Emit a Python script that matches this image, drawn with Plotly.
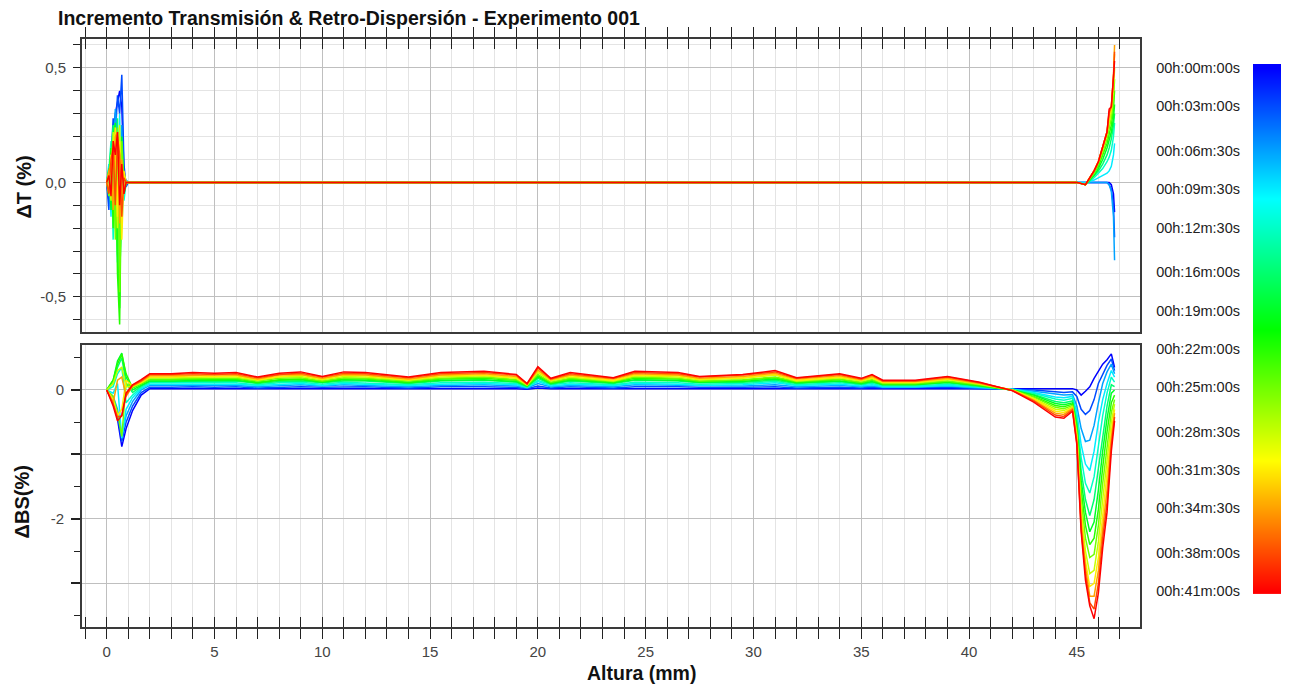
import plotly.graph_objects as go
from plotly.colors import sample_colorscale

FONT = "Arial, 'Liberation Sans', sans-serif"

# ---------------- data ----------------
TIME_LABELS = ["00h:00m:00s", "00h:03m:00s", "00h:06m:30s", "00h:09m:30s", "00h:12m:30s",
               "00h:16m:00s", "00h:19m:00s", "00h:22m:00s", "00h:25m:00s", "00h:28m:30s",
               "00h:31m:30s", "00h:34m:30s", "00h:38m:00s", "00h:41m:00s"]
MINUTES = [0, 3, 6.5, 9.5, 12.5, 16, 19, 22, 25, 28.5, 31.5, 34.5, 38, 41]

# Transmission increment (top panel)
X_T = [0.0, 0.1, 0.2, 0.3, 0.4, 0.5, 0.6, 0.7, 0.8, 0.9, 1.0, 1.3, 2.0,
       44.0, 45.0, 45.4, 45.8, 46.0, 46.2, 46.4, 46.5, 46.6, 46.7, 46.75]
DT = [
    [0.00, -0.08, 0.06, 0.22, 0.30, 0.35, 0.40, 0.33, 0.05, 0.00, 0.00, 0.00, 0.00,
     0.00, 0.00, 0.00, 0.00, 0.00, 0.00, 0.00, 0.00, -0.01, -0.05, -0.13],
    [0.00, -0.12, 0.10, 0.28, 0.20, 0.38, 0.30, 0.47, 0.08, -0.02, 0.00, 0.00, 0.00,
     0.00, 0.00, 0.00, 0.00, 0.00, 0.00, 0.00, -0.01, -0.03, -0.10, -0.24],
    [0.00, 0.05, -0.10, 0.15, 0.32, 0.22, -0.30, 0.25, -0.05, 0.01, 0.00, 0.00, 0.00,
     0.00, 0.00, 0.00, 0.00, 0.00, 0.00, 0.00, -0.01, -0.04, -0.15, -0.34],
    [0.00, 0.08, -0.15, 0.20, 0.10, -0.35, 0.30, -0.20, 0.03, 0.00, 0.00, 0.00, 0.00,
     0.00, 0.00, 0.00, 0.01, 0.02, 0.03, 0.04, 0.05, 0.07, 0.12, 0.17],
    [0.00, 0.05, 0.18, -0.25, 0.22, 0.05, -0.45, 0.15, -0.08, 0.00, 0.00, 0.00, 0.00,
     0.00, 0.00, -0.01, 0.02, 0.04, 0.06, 0.09, 0.11, 0.14, 0.20, 0.26],
    [0.00, -0.05, 0.12, 0.25, -0.20, 0.28, -0.50, 0.10, 0.02, 0.00, 0.00, 0.00, 0.00,
     0.00, 0.00, -0.01, 0.03, 0.05, 0.08, 0.12, 0.15, 0.19, 0.25, 0.30],
    [0.00, 0.06, -0.12, 0.20, 0.26, -0.30, -0.55, 0.20, -0.05, 0.00, 0.00, 0.00, 0.00,
     0.00, 0.00, -0.01, 0.03, 0.06, 0.10, 0.15, 0.18, 0.22, 0.28, 0.34],
    [0.00, 0.02, 0.15, -0.20, 0.22, -0.40, -0.62, 0.12, 0.03, 0.00, 0.00, 0.00, 0.00,
     0.00, 0.00, -0.01, 0.04, 0.07, 0.12, 0.17, 0.21, 0.25, 0.32, 0.40],
    [0.00, -0.06, 0.10, 0.18, -0.25, 0.24, -0.48, 0.18, -0.04, 0.00, 0.00, 0.00, 0.00,
     0.00, 0.00, -0.01, 0.04, 0.08, 0.13, 0.19, 0.24, 0.28, 0.36, 0.45],
    [0.00, 0.04, -0.08, 0.22, 0.15, -0.20, 0.25, -0.10, 0.02, 0.00, 0.00, 0.00, 0.00,
     0.00, 0.00, -0.01, 0.05, 0.09, 0.14, 0.21, 0.27, 0.31, 0.40, 0.50],
    [0.00, -0.04, 0.12, 0.10, 0.24, -0.15, 0.18, -0.25, 0.05, 0.00, 0.00, 0.00, 0.00,
     0.00, 0.00, -0.01, 0.05, 0.09, 0.15, 0.22, 0.29, 0.32, 0.45, 0.56],
    [0.00, 0.05, 0.08, -0.12, 0.20, 0.22, -0.18, 0.10, -0.03, 0.00, 0.00, 0.00, 0.00,
     0.00, 0.00, -0.01, 0.05, 0.09, 0.15, 0.22, 0.30, 0.33, 0.47, 0.60],
    [0.00, -0.05, 0.10, 0.15, -0.10, 0.20, 0.12, -0.15, 0.02, 0.00, 0.00, 0.00, 0.00,
     0.00, 0.00, -0.01, 0.05, 0.09, 0.15, 0.22, 0.31, 0.33, 0.46, 0.57],
    [0.00, 0.03, -0.06, 0.18, 0.12, 0.22, -0.10, 0.08, -0.05, 0.00, 0.00, 0.00, 0.00,
     0.00, 0.00, -0.01, 0.05, 0.09, 0.15, 0.22, 0.32, 0.33, 0.46, 0.53],
]

# Backscattering increment (bottom panel)
X_BS_LEFT = [0.0, 0.3, 0.5, 0.7, 0.9, 1.2, 1.6]
X_BS_PLATEAU = [2.0, 3.0, 4.0, 5.0, 6.0, 7.0, 8.0, 9.0, 10.0, 11.0,
                12.0, 14.0, 15.5, 17.5, 19.0, 19.5, 20.0, 20.6, 21.5, 23.5,
                24.5, 26.5, 27.5, 29.5, 31.0, 32.0, 34.0, 35.0, 35.5, 36.0,
                37.5, 39.0, 40.5]
X_BS_TAIL = [42.0, 43.0, 44.0, 44.4, 44.8]
X_BS_SPIKE = [45.0, 45.2, 45.4, 45.6, 45.8, 46.0, 46.2, 46.4, 46.6, 46.75]

BS_LEFT = [
    [0.00, -0.20, -0.45, -0.88, -0.60, -0.32, -0.08],
    [0.00, -0.15, -0.40, -0.80, -0.50, -0.25, -0.04],
    [0.00, -0.10, -0.30, -0.70, -0.40, -0.18, 0.00],
    [0.00, -0.05, 0.10, -0.75, -0.30, -0.12, 0.02],
    [0.00, 0.05, 0.25, 0.35, -0.20, -0.08, 0.04],
    [0.00, 0.10, 0.35, 0.50, 0.10, -0.04, 0.06],
    [0.00, 0.15, 0.45, 0.57, 0.20, 0.00, 0.07],
    [0.00, 0.15, 0.40, 0.55, 0.25, 0.03, 0.09],
    [0.00, -0.10, -0.35, -0.72, 0.10, 0.04, 0.10],
    [0.00, 0.10, 0.30, 0.35, 0.05, 0.05, 0.11],
    [0.00, -0.15, -0.40, -0.30, 0.15, 0.06, 0.12],
    [0.00, -0.20, 0.15, 0.20, -0.10, 0.06, 0.13],
    [0.00, -0.22, -0.42, -0.40, -0.08, 0.07, 0.14],
    [0.00, -0.25, -0.48, -0.40, -0.05, 0.08, 0.16],
]
BS_PLATEAU = [
    [0.02, 0.02, 0.02, 0.02, 0.02, 0.02, 0.02, 0.02, 0.02, 0.03, 0.02, 0.02, 0.02, 0.02, 0.02, 0.01, 0.03,
     0.02, 0.02, 0.02, 0.02, 0.02, 0.02, 0.02, 0.02, 0.02, 0.02, 0.02, 0.02, 0.01, 0.02, 0.02, 0.01],
    [0.04, 0.04, 0.05, 0.04, 0.05, 0.03, 0.04, 0.05, 0.04, 0.05, 0.05, 0.03, 0.05, 0.05, 0.04, 0.02, 0.06,
     0.03, 0.05, 0.03, 0.05, 0.05, 0.04, 0.04, 0.05, 0.03, 0.04, 0.03, 0.04, 0.03, 0.03, 0.04, 0.02],
    [0.07, 0.07, 0.07, 0.07, 0.07, 0.05, 0.07, 0.08, 0.06, 0.08, 0.07, 0.05, 0.07, 0.08, 0.06, 0.03, 0.10,
     0.05, 0.07, 0.05, 0.08, 0.07, 0.06, 0.06, 0.08, 0.05, 0.07, 0.05, 0.06, 0.04, 0.04, 0.06, 0.03],
    [0.09, 0.09, 0.09, 0.09, 0.09, 0.07, 0.09, 0.10, 0.07, 0.10, 0.09, 0.07, 0.09, 0.10, 0.08, 0.04, 0.13,
     0.06, 0.09, 0.07, 0.10, 0.09, 0.07, 0.08, 0.11, 0.07, 0.09, 0.06, 0.08, 0.05, 0.05, 0.07, 0.04],
    [0.11, 0.11, 0.11, 0.11, 0.11, 0.08, 0.11, 0.12, 0.09, 0.12, 0.11, 0.08, 0.11, 0.12, 0.10, 0.04, 0.15,
     0.08, 0.11, 0.08, 0.12, 0.11, 0.09, 0.10, 0.13, 0.08, 0.11, 0.08, 0.10, 0.06, 0.06, 0.09, 0.05],
    [0.13, 0.13, 0.14, 0.13, 0.14, 0.10, 0.13, 0.14, 0.11, 0.14, 0.14, 0.10, 0.14, 0.15, 0.12, 0.05, 0.18,
     0.09, 0.14, 0.10, 0.15, 0.14, 0.11, 0.12, 0.15, 0.10, 0.13, 0.09, 0.12, 0.08, 0.08, 0.11, 0.06],
    [0.14, 0.14, 0.15, 0.15, 0.15, 0.11, 0.15, 0.16, 0.12, 0.16, 0.15, 0.11, 0.15, 0.16, 0.13, 0.06, 0.20,
     0.10, 0.15, 0.11, 0.16, 0.15, 0.12, 0.13, 0.17, 0.11, 0.14, 0.10, 0.13, 0.08, 0.08, 0.12, 0.07],
    [0.16, 0.16, 0.17, 0.16, 0.17, 0.12, 0.16, 0.17, 0.13, 0.17, 0.17, 0.12, 0.17, 0.18, 0.15, 0.06, 0.22,
     0.11, 0.17, 0.12, 0.18, 0.17, 0.13, 0.15, 0.19, 0.12, 0.16, 0.11, 0.15, 0.09, 0.09, 0.13, 0.07],
    [0.17, 0.17, 0.18, 0.18, 0.18, 0.14, 0.18, 0.19, 0.14, 0.19, 0.18, 0.14, 0.18, 0.20, 0.16, 0.07, 0.24,
     0.12, 0.18, 0.13, 0.20, 0.18, 0.14, 0.16, 0.20, 0.13, 0.17, 0.12, 0.16, 0.10, 0.10, 0.14, 0.08],
    [0.19, 0.19, 0.20, 0.20, 0.20, 0.15, 0.20, 0.21, 0.16, 0.21, 0.20, 0.15, 0.20, 0.22, 0.18, 0.08, 0.27,
     0.14, 0.20, 0.14, 0.22, 0.20, 0.16, 0.18, 0.23, 0.14, 0.19, 0.14, 0.18, 0.11, 0.11, 0.16, 0.09],
    [0.20, 0.20, 0.22, 0.21, 0.22, 0.16, 0.21, 0.23, 0.17, 0.23, 0.22, 0.16, 0.22, 0.23, 0.19, 0.08, 0.29,
     0.15, 0.22, 0.15, 0.23, 0.22, 0.17, 0.19, 0.24, 0.15, 0.20, 0.15, 0.19, 0.12, 0.12, 0.17, 0.10],
    [0.22, 0.22, 0.23, 0.23, 0.23, 0.17, 0.23, 0.24, 0.18, 0.24, 0.23, 0.17, 0.23, 0.25, 0.21, 0.09, 0.31,
     0.16, 0.23, 0.17, 0.25, 0.23, 0.18, 0.21, 0.26, 0.17, 0.22, 0.16, 0.21, 0.13, 0.13, 0.18, 0.10],
    [0.24, 0.24, 0.25, 0.24, 0.25, 0.19, 0.24, 0.26, 0.20, 0.26, 0.25, 0.19, 0.25, 0.27, 0.23, 0.09, 0.34,
     0.17, 0.25, 0.18, 0.27, 0.25, 0.20, 0.23, 0.28, 0.18, 0.24, 0.17, 0.23, 0.14, 0.14, 0.20, 0.11],
    [0.25, 0.25, 0.27, 0.26, 0.27, 0.20, 0.26, 0.28, 0.21, 0.28, 0.27, 0.20, 0.27, 0.29, 0.24, 0.10, 0.36,
     0.18, 0.27, 0.19, 0.29, 0.27, 0.21, 0.24, 0.30, 0.19, 0.25, 0.18, 0.24, 0.15, 0.15, 0.21, 0.12],
]
BS_TAIL = [
    [0.02, 0.02, 0.02, 0.02, 0.02],
    [0.01, 0.00, -0.03, -0.04, -0.03],
    [0.01, -0.02, -0.07, -0.08, -0.07],
    [0.01, -0.04, -0.11, -0.12, -0.10],
    [0.01, -0.05, -0.14, -0.16, -0.13],
    [0.00, -0.07, -0.18, -0.20, -0.17],
    [0.00, -0.08, -0.21, -0.23, -0.20],
    [0.00, -0.10, -0.24, -0.26, -0.22],
    [0.00, -0.11, -0.27, -0.29, -0.24],
    [0.00, -0.13, -0.30, -0.32, -0.26],
    [0.00, -0.14, -0.33, -0.35, -0.28],
    [0.00, -0.16, -0.36, -0.38, -0.29],
    [-0.01, -0.17, -0.39, -0.41, -0.31],
    [-0.01, -0.19, -0.42, -0.44, -0.33],
]
BS_SPIKE = [
    [0.00, -0.08, -0.02, 0.05, 0.18, 0.30, 0.40, 0.47, 0.56, 0.35],
    [-0.10, -0.30, -0.38, -0.32, -0.15, 0.10, 0.25, 0.38, 0.48, 0.30],
    [-0.25, -0.60, -0.80, -0.78, -0.55, -0.20, 0.10, 0.28, 0.40, 0.25],
    [-0.35, -0.85, -1.15, -1.25, -0.95, -0.50, -0.15, 0.10, 0.30, 0.20],
    [-0.45, -1.05, -1.45, -1.60, -1.35, -0.85, -0.40, -0.05, 0.20, 0.12],
    [-0.50, -1.25, -1.70, -1.95, -1.70, -1.20, -0.70, -0.25, 0.08, 0.05],
    [-0.55, -1.40, -1.90, -2.20, -2.05, -1.55, -0.95, -0.45, -0.05, 0.00],
    [-0.60, -1.55, -2.10, -2.40, -2.30, -1.85, -1.20, -0.65, -0.20, -0.08],
    [-0.65, -1.70, -2.30, -2.60, -2.55, -2.10, -1.45, -0.85, -0.35, -0.15],
    [-0.70, -1.85, -2.50, -2.85, -2.80, -2.35, -1.70, -1.10, -0.50, -0.22],
    [-0.74, -1.95, -2.65, -3.05, -3.00, -2.60, -1.95, -1.35, -0.65, -0.30],
    [-0.78, -2.05, -2.75, -3.20, -3.20, -2.80, -2.15, -1.55, -0.75, -0.36],
    [-0.82, -2.15, -2.85, -3.30, -3.40, -3.00, -2.30, -1.75, -0.85, -0.42],
    [-0.85, -2.20, -2.95, -3.35, -3.55, -3.15, -2.45, -1.90, -0.95, -0.48],
]

X_TICKS = [0, 5, 10, 15, 20, 25, 30, 35, 40, 45]
X_MINOR = [-1, 1, 2, 3, 4, 6, 7, 8, 9, 11, 12, 13, 14, 16, 17, 18, 19, 21, 22, 23, 24,
           26, 27, 28, 29, 31, 32, 33, 34, 36, 37, 38, 39, 41, 42, 43, 44, 46, 47]
X_ALL = [-1] + list(range(0, 48))
DT_TICKS = [-0.5, 0.0, 0.5]
DT_TICK_TEXT = ["-0,5", "0,0", "0,5"]
DT_MINOR = [-0.6, -0.4, -0.3, -0.2, -0.1, 0.1, 0.2, 0.3, 0.4, 0.6]
BS_TICKS = [-3, -2, -1, 0]
BS_TICK_TEXT = ["", "-2", "", "0"]
BS_MINOR = [-3.5, -2.5, -1.5, -0.5, 0.5]

COLORSCALE = [[0.0, "rgb(0,0,255)"], [0.25, "rgb(0,255,255)"], [0.5, "rgb(0,255,0)"],
              [0.75, "rgb(255,255,0)"], [1.0, "rgb(255,0,0)"]]

# ---------------- figure ----------------
W, H = 1294, 693
XD = [82 / W, 1140 / W]
YD_T = [1 - 332.7 / H, 1 - 35 / H]
YD_BS = [1 - 631 / H, 1 - 345.7 / H]
XRANGE = [-1.146, 47.93]

fig = go.Figure()
X_BS = X_BS_LEFT + X_BS_PLATEAU + X_BS_TAIL + X_BS_SPIKE
tmax = MINUTES[-1]
for i, t in enumerate(MINUTES):
    col = sample_colorscale(COLORSCALE, [t / tmax])[0]
    fig.add_trace(go.Scatter(x=X_T, y=DT[i], mode="lines", xaxis="x", yaxis="y",
                             line=dict(color=col, width=1.5), name=TIME_LABELS[i],
                             showlegend=False))
    ybs = BS_LEFT[i] + BS_PLATEAU[i] + BS_TAIL[i] + BS_SPIKE[i]
    fig.add_trace(go.Scatter(x=X_BS, y=ybs, mode="lines", xaxis="x2", yaxis="y2",
                             line=dict(color=col, width=1.5), name=TIME_LABELS[i],
                             showlegend=False))

# colour bar drawn as a heatmap strip keyed to the time labels
fig.add_trace(go.Heatmap(x=[0, 1], y=MINUTES, z=[[t, t] for t in MINUTES],
                         colorscale=COLORSCALE, zmin=0, zmax=tmax, zsmooth="best",
                         showscale=False, xaxis="x3", yaxis="y3", hoverinfo="skip"))
# helper (empty) traces for overlay tick axes
fig.add_trace(go.Scatter(x=[None], y=[None], xaxis="x4", yaxis="y", showlegend=False, hoverinfo="skip"))
fig.add_trace(go.Scatter(x=[None], y=[None], xaxis="x5", yaxis="y2", showlegend=False, hoverinfo="skip"))

LINEC = "#3a3a3a"
TICKC = "#222222"
GRID_MAJ = "#bfbfbf"
GRID_MIN = "#e4e4e4"

base_x = dict(range=XRANGE, domain=XD, showline=True, linecolor=LINEC, linewidth=2,
              mirror=True, zeroline=False, showgrid=True, gridcolor=GRID_MAJ, gridwidth=1,
              tickmode="array", tickvals=X_TICKS, ticks="outside", ticklen=10,
              tickcolor=TICKC, tickwidth=1.3,
              minor=dict(tickmode="array", tickvals=X_MINOR, ticks="outside", ticklen=10,
                         tickcolor=TICKC, tickwidth=1.3, showgrid=True, gridcolor=GRID_MIN,
                         gridwidth=1))
overlay_x = dict(range=XRANGE, showgrid=False, zeroline=False, showline=False,
                 showticklabels=False, tickmode="array", tickvals=X_ALL, ticks="inside",
                 ticklen=10, tickcolor=TICKC, tickwidth=1.3)

fig.update_layout(
    width=W, height=H, margin=dict(l=0, r=0, t=0, b=0),
    paper_bgcolor="white", plot_bgcolor="white", showlegend=False,
    font=dict(family=FONT, size=15, color="#444444"),
    xaxis=dict(base_x, anchor="y", side="top", showticklabels=False),
    xaxis2=dict(base_x, anchor="y2", side="bottom", showticklabels=True,
                ticktext=[str(v) for v in X_TICKS], ticklabelstandoff=0,
                tickfont=dict(size=15, color="#444444")),
    xaxis4=dict(overlay_x, overlaying="x", anchor="y", side="top"),
    xaxis5=dict(overlay_x, overlaying="x2", anchor="y2", side="bottom"),
    yaxis=dict(domain=YD_T, anchor="x", range=[-0.655, 0.628], showline=True,
               linecolor=LINEC, linewidth=2, mirror=True, zeroline=False,
               showgrid=True, gridcolor=GRID_MAJ, tickmode="array", tickvals=DT_TICKS,
               ticktext=DT_TICK_TEXT, ticks="outside", ticklen=7, tickcolor=TICKC,
               tickwidth=1.3, ticklabelstandoff=4, tickfont=dict(size=15, color="#444444"),
               minor=dict(tickmode="array", tickvals=DT_MINOR, ticks="outside", ticklen=7,
                          tickcolor=TICKC, tickwidth=1.3, showgrid=True, gridcolor=GRID_MIN)),
    yaxis2=dict(domain=YD_BS, anchor="x2", range=[-3.675, 0.694], showline=True,
                linecolor=LINEC, linewidth=2, mirror=True, zeroline=False,
                showgrid=True, gridcolor=GRID_MAJ, tickmode="array", tickvals=BS_TICKS,
                ticktext=BS_TICK_TEXT, ticks="outside", ticklen=9, tickcolor=TICKC,
                tickwidth=1.5, ticklabelstandoff=4, tickfont=dict(size=15, color="#444444"),
                minor=dict(tickmode="array", tickvals=BS_MINOR, ticks="outside", ticklen=6,
                           tickcolor=TICKC, tickwidth=1.3, showgrid=False)),
    xaxis3=dict(domain=[1253 / W, 1281 / W], anchor="y3", range=[-0.5, 1.5], visible=False),
    yaxis3=dict(domain=[1 - 598 / H, 1 - 60.7 / H], anchor="x3", range=[41.23, -0.33],
                side="left", showgrid=False, zeroline=False, showline=False, ticks="",
                tickmode="array", tickvals=MINUTES, ticktext=TIME_LABELS,
                ticklabelstandoff=12, tickfont=dict(size=14.5, color="#222222")),
    annotations=[
        dict(text="<b>Incremento Transmisión &amp; Retro-Dispersión - Experimento 001</b>",
             xref="paper", yref="paper", x=56 / W, y=1 - 14 / H, xanchor="left",
             yanchor="middle", showarrow=False, font=dict(size=19.5, color="#111111")),
        dict(text="<b>ΔT (%)</b>", xref="paper", yref="paper", x=24 / W, y=1 - 186 / H,
             xanchor="center", yanchor="middle", textangle=-90, showarrow=False,
             font=dict(size=20, color="#111111")),
        dict(text="<b>ΔBS(%)</b>", xref="paper", yref="paper", x=22 / W, y=1 - 505 / H,
             xanchor="center", yanchor="middle", textangle=-90, showarrow=False,
             font=dict(size=20, color="#111111")),
        dict(text="<b>Altura (mm)</b>", xref="paper", yref="paper", x=641 / W, y=1 - 678 / H,
             xanchor="center", yanchor="middle", showarrow=False,
             font=dict(size=19.5, color="#111111")),
    ],
)

fig.write_html("out.html")
